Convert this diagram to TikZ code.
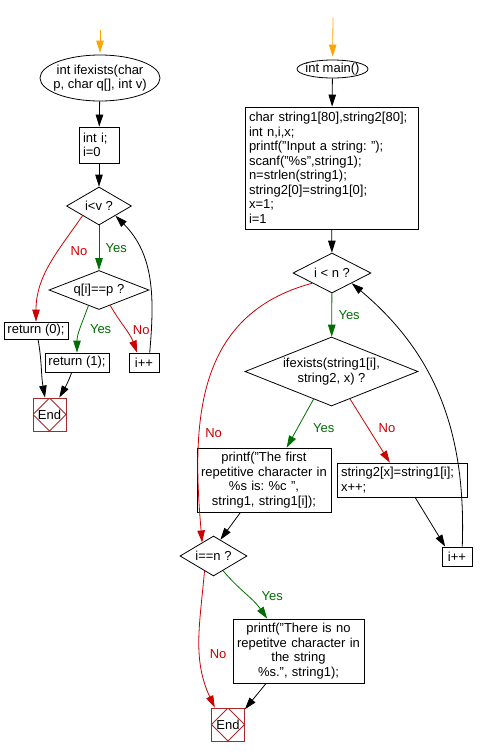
\documentclass[tikz,border=0pt]{standalone}
\usepackage{fontspec}
\setmainfont{Liberation Sans}
\usetikzlibrary{positioning,arrows.meta,shapes.geometric}
\definecolor{noRed}{RGB}{204,0,0}
\definecolor{yesGreen}{RGB}{0,110,0}
\definecolor{startOrange}{RGB}{255,165,0}
\definecolor{endRed}{RGB}{170,40,40}
\frenchspacing
\begin{document}
\begin{tikzpicture}[x=1pt, y=-1pt, line width=0.8pt,
  font=\fontsize{13}{14.5}\selectfont,
  >={Triangle[length=12pt,width=7.5pt]},
  box/.style={draw, rectangle, inner sep=2pt},
  cond/.style={draw, diamond, inner sep=0pt, aspect=2},
  term/.style={draw, ellipse, inner xsep=-6pt, inner ysep=0pt, align=center},
  fin/.style={draw=endRed, rectangle, minimum size=33pt, inner sep=0pt,
    path picture={\draw[endRed] (path picture bounding box.north) -- (path picture bounding box.east)
      -- (path picture bounding box.south) -- (path picture bounding box.west) -- cycle;}}]
\useasboundingbox (0,0) rectangle (482,756);
% ifexists()
\coordinate (lstart) at (100,30);
\node[term, minimum width=120pt, minimum height=46pt] (lfun) at (100,78) {int ifexists(char\\p, char q[], int v)};
\node[box, text width=32pt, inner xsep=4pt, align=left, minimum height=36pt] (linit) at (99,145) {int i;\\i=0};
\node[cond, minimum width=65pt, minimum height=38pt] (lcond) at (99,206) {i<v ?};
\node[cond, minimum width=100pt, minimum height=39pt] (lcheck) at (99,290) {q[i]==p ?};
\node[box, minimum width=64pt, minimum height=17pt] (lret0) at (36,330.5) {return (0);};
\node[box, minimum width=64pt, minimum height=19pt] (lret1) at (77,362.5) {return (1);};
\node[box, minimum width=30pt, minimum height=19pt] (linc) at (144,362.5) {i++};
\node[fin] (lend) at (49.5,414.5) {End};
\draw[->, startOrange, shorten >=2pt] (lstart) -- (lfun);
\draw[->] (lfun) -- (linit);
\draw[->] (linit) -- (lcond);
\draw[->, yesGreen] (lcond) to node[right=3pt] {Yes} (lcheck);
\draw[->, noRed] (lcond.south west) to[out=235, in=90] node[right=9pt, pos=0.35] {No} (lret0.north);
\draw[->, yesGreen] (lcheck.236) to[out=250, in=90] node[right=6pt] {Yes} (lret1.north);
\draw[->, noRed] (lcheck.-54) to[out=-60, in=110] node[right=3pt, pos=0.55] {No} (linc.125);
\draw[->] (lret0.283) to[out=-80, in=100] (lend.105);
\draw[->] (lret1.242) to[out=-110, in=60] (lend.60);
\draw[->] (linc.60) to[out=85, in=-45] (lcond.south east);
% main()
\coordinate (rstart) at (333,18);
\node[term, minimum width=71pt, minimum height=18pt] (rmain) at (332.5,69) {int main()};
\node[box, text width=165pt, inner xsep=4pt, align=left, minimum height=122pt] (rinit) at (331.5,168)
  {char string1[80],string2[80];\\int n,i,x;\\printf("Input a string: ");\\scanf("\%s",string1);\\n=strlen(string1);\\string2[0]=string1[0];\\x=1;\\i=1};
\node[cond, minimum width=78pt, minimum height=40pt] (rcond) at (332,273) {i < n ?};
\node[cond, aspect=2.5, minimum width=173pt, minimum height=69pt, align=center] (rcheck) at (331.5,371.5) {ifexists(string1[i],\\string2, x) ?};
\node[box, text width=130pt, inner xsep=2pt, align=center, minimum height=64pt] (rfound) at (264,480)
  {printf("The first\\repetitive character in\\\%s is: \%c ",\\string1, string1[i]);};
\node[box, text width=122pt, inner xsep=4pt, align=left, minimum height=34pt] (rupd) at (402,480) {string2[x]=string1[i];\\x++;};
\node[box, minimum width=30pt, minimum height=19pt] (rinc) at (457,556.5) {i++};
\node[cond, minimum width=67pt, minimum height=40pt] (rlast) at (213.5,556) {i==n ?};
\node[box, text width=127pt, inner xsep=2pt, align=center, minimum height=64pt] (rnone) at (298.5,651)
  {printf("There is no\\repetitve character in\\the string\\\%s.", string1);};
\node[fin] (rend) at (228,724.5) {End};
\draw[->, startOrange, shorten >=3pt] (rstart) -- (rmain);
\draw[->] (rmain) -- (rinit);
\draw[->] (rinit) -- (rcond);
\draw[->, yesGreen] (rcond) to node[right=3pt] {Yes} (rcheck);
\draw[->, noRed] (rcond.south west) to[out=195, in=95, looseness=1.1] node[right=2pt, pos=0.68] {No} (rlast.130);
\draw[->, yesGreen] (rcheck.237) to node[right=12pt, pos=0.6] {Yes} (rfound.55);
\draw[->, noRed] (rcheck.-56) to node[right=7pt, pos=0.45] {No} (rupd.125);
\draw[->] (rfound.234) -- (rlast.67);
\draw[->] (rupd.-53) -- (rinc.140);
\draw[->] (rinc.62) to[out=88, in=-40] (rcond.south east);
\draw[->, yesGreen] (rlast.-57) to[out=-50, in=125] node[right=10pt, pos=0.55] {Yes} (rnone.134);
\draw[->, noRed] (rlast.239) to[out=265, in=115] node[right=6pt, pos=0.6] {No} (rend.128);
\draw[->] (rnone.225) -- (rend.42);
\end{tikzpicture}
\end{document}
